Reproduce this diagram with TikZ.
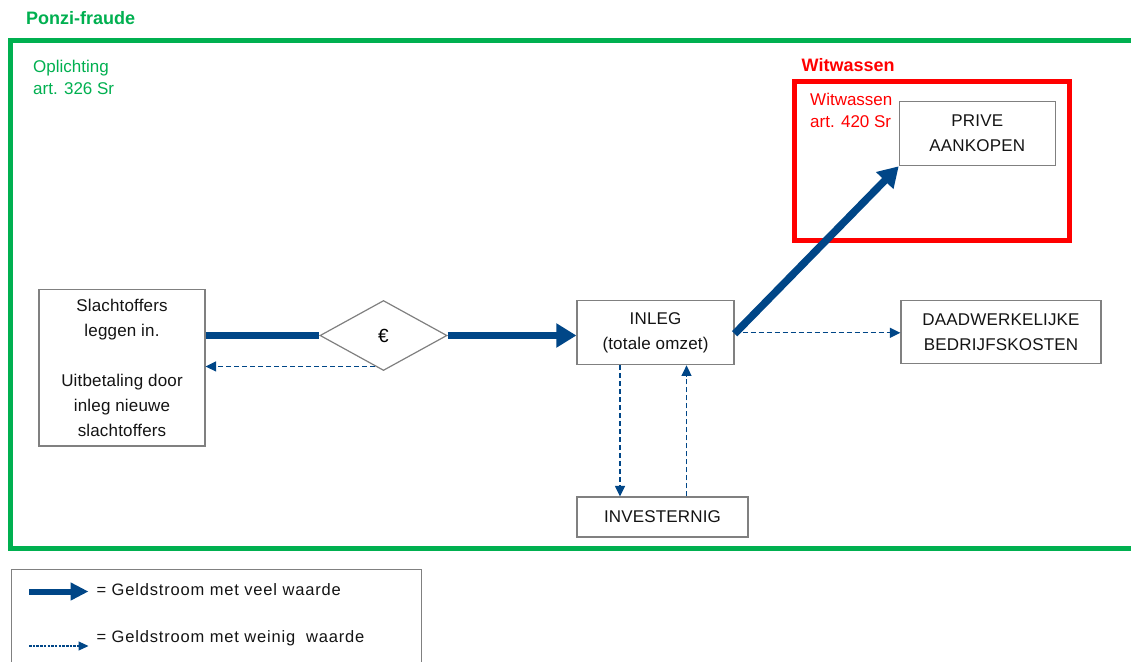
\documentclass[tikz,border=0pt]{standalone}
\usepackage{fontspec}
\setmainfont{Liberation Sans}
\newfontfamily\boxfont[LetterSpace=1]{Liberation Sans}
\newfontfamily\legfont[LetterSpace=5]{Liberation Sans}
\usetikzlibrary{arrows.meta,shapes.geometric,calc}
\definecolor{frameGreen}{RGB}{0,176,80}
\definecolor{frameRed}{RGB}{255,0,0}
\definecolor{flowBlue}{RGB}{0,70,135}
\definecolor{boxGray}{RGB}{128,128,128}
\definecolor{txt}{RGB}{20,20,20}
\tikzset{
  stepbox/.style={draw=boxGray, line width=1.2pt, fill=white, inner sep=0pt,
    align=center, text=txt, font=\boxfont\fontsize{17}{25}\selectfont},
  bigflow/.style={draw=flowBlue, line width=7.5pt,
    -{Triangle[length=20pt,width=23pt]}},
  bigline/.style={draw=flowBlue, line width=7.5pt},
  smallflow/.style={draw=flowBlue, line width=1.3pt, dash pattern=on 5pt off 3pt,
    -{Triangle[length=10.5pt,width=10pt]}},
  titlelbl/.style={inner sep=0pt, anchor=west, font=\fontsize{18}{21}\selectfont\bfseries},
  artlbl/.style={inner sep=0pt, anchor=west, align=left, font=\fontsize{17}{22}\selectfont},
  legtext/.style={inner sep=0pt, anchor=west, text=txt, font=\legfont\fontsize{16.5}{20}\selectfont},
}
\begin{document}
\begin{tikzpicture}[x=1pt,y=-1pt]
\clip (0,0) rectangle (1131,661);
\fill[white] (0,0) rectangle (1131,661);

% outer fraud frame and its titles
\node[titlelbl, text=frameGreen] (ponzi) at (26,18) {Ponzi-fraude};
\draw[frameGreen, line width=5pt] (1140,41) -- (10,41) -- (10,548.5) -- (1140,548.5);
\node[artlbl, text=frameGreen] (oplicht) at (33,77) {Oplichting\\art. 326 Sr};

% money laundering frame
\node[titlelbl, text=frameRed] (witw) at (801.5,65) {Witwassen};
\draw[frameRed, line width=5pt] (794,81.5) rectangle (1069,240);
\node[artlbl, text=frameRed] (witwart) at (810,110) {Witwassen\\art. 420 Sr};

% boxes
\node[stepbox, minimum width=166pt, minimum height=156.5pt] (vic) at (122,367.8)
  {Slachtoffers\\leggen in.\\[24.5pt]Uitbetaling door\\inleg nieuwe\\slachtoffers};
\node[draw=boxGray, line width=1.2pt, fill=white, shape=diamond, inner sep=0pt,
  aspect=1.81, minimum width=127pt, minimum height=70pt,
  font=\fontsize{19}{22}\selectfont] (dia) at (383.5,335.5) {€};
\node[stepbox, minimum width=157pt, minimum height=64pt] (inleg) at (655.5,332.8)
  {INLEG\\(totale omzet)};
\node[stepbox, minimum width=200pt, minimum height=62.5pt] (daad) at (1001,332)
  {DAADWERKELIJKE\\BEDRIJFSKOSTEN};
\node[stepbox, minimum width=171pt, minimum height=40pt] (inv) at (662.5,517)
  {INVESTERNIG};
\node[stepbox, minimum width=156pt, minimum height=64pt] (prive) at (977.3,133.7)
  {PRIVE\\AANKOPEN};

% money flows
\draw[bigline] (vic.east |- dia.west) -- (dia.west);
\draw[bigflow] (dia.east) -- (dia.east -| inleg.west);
\draw[bigflow] ([yshift=-1pt]inleg.east) -- (prive.south west);
\coordinate (back) at ($(dia.south)!0.13!(dia.west)$);
\draw[smallflow] (back) -- (back -| vic.east);
\draw[smallflow] (inleg.east) -- (inleg.east -| daad.west);
\draw[smallflow] ([xshift=-35.5pt]inleg.south) -- ([xshift=-35.5pt]inleg.south |- inv.north);
\draw[smallflow] ([xshift=31pt]inleg.south |- inv.north) -- ([xshift=31pt]inleg.south);

% legend
\node[draw=boxGray, line width=1.2pt, inner sep=0pt, minimum width=409.5pt,
  minimum height=101pt, anchor=north west] (legend) at (11,569) {};
\node[legtext] (leg1) at (96.5,590) {= Geldstroom met veel waarde};
\node[legtext] (leg2) at (96.5,638) {= Geldstroom met weinig\ \ waarde};
\coordinate (l1) at (29,591.5);
\coordinate (l2) at (29,646);
\draw[draw=flowBlue, line width=6pt, -{Triangle[length=18pt,width=17pt]}]
  (l1) -- (l1 -| {$(leg1.west)+(-8,0)$});
\draw[draw=flowBlue, line width=1.1pt, dash pattern=on 2.5pt off 1.2pt,
  -{Triangle[length=10pt,width=9pt]}] (l2) -- (l2 -| {$(leg2.west)+(-8,0)$});
\end{tikzpicture}
\end{document}
